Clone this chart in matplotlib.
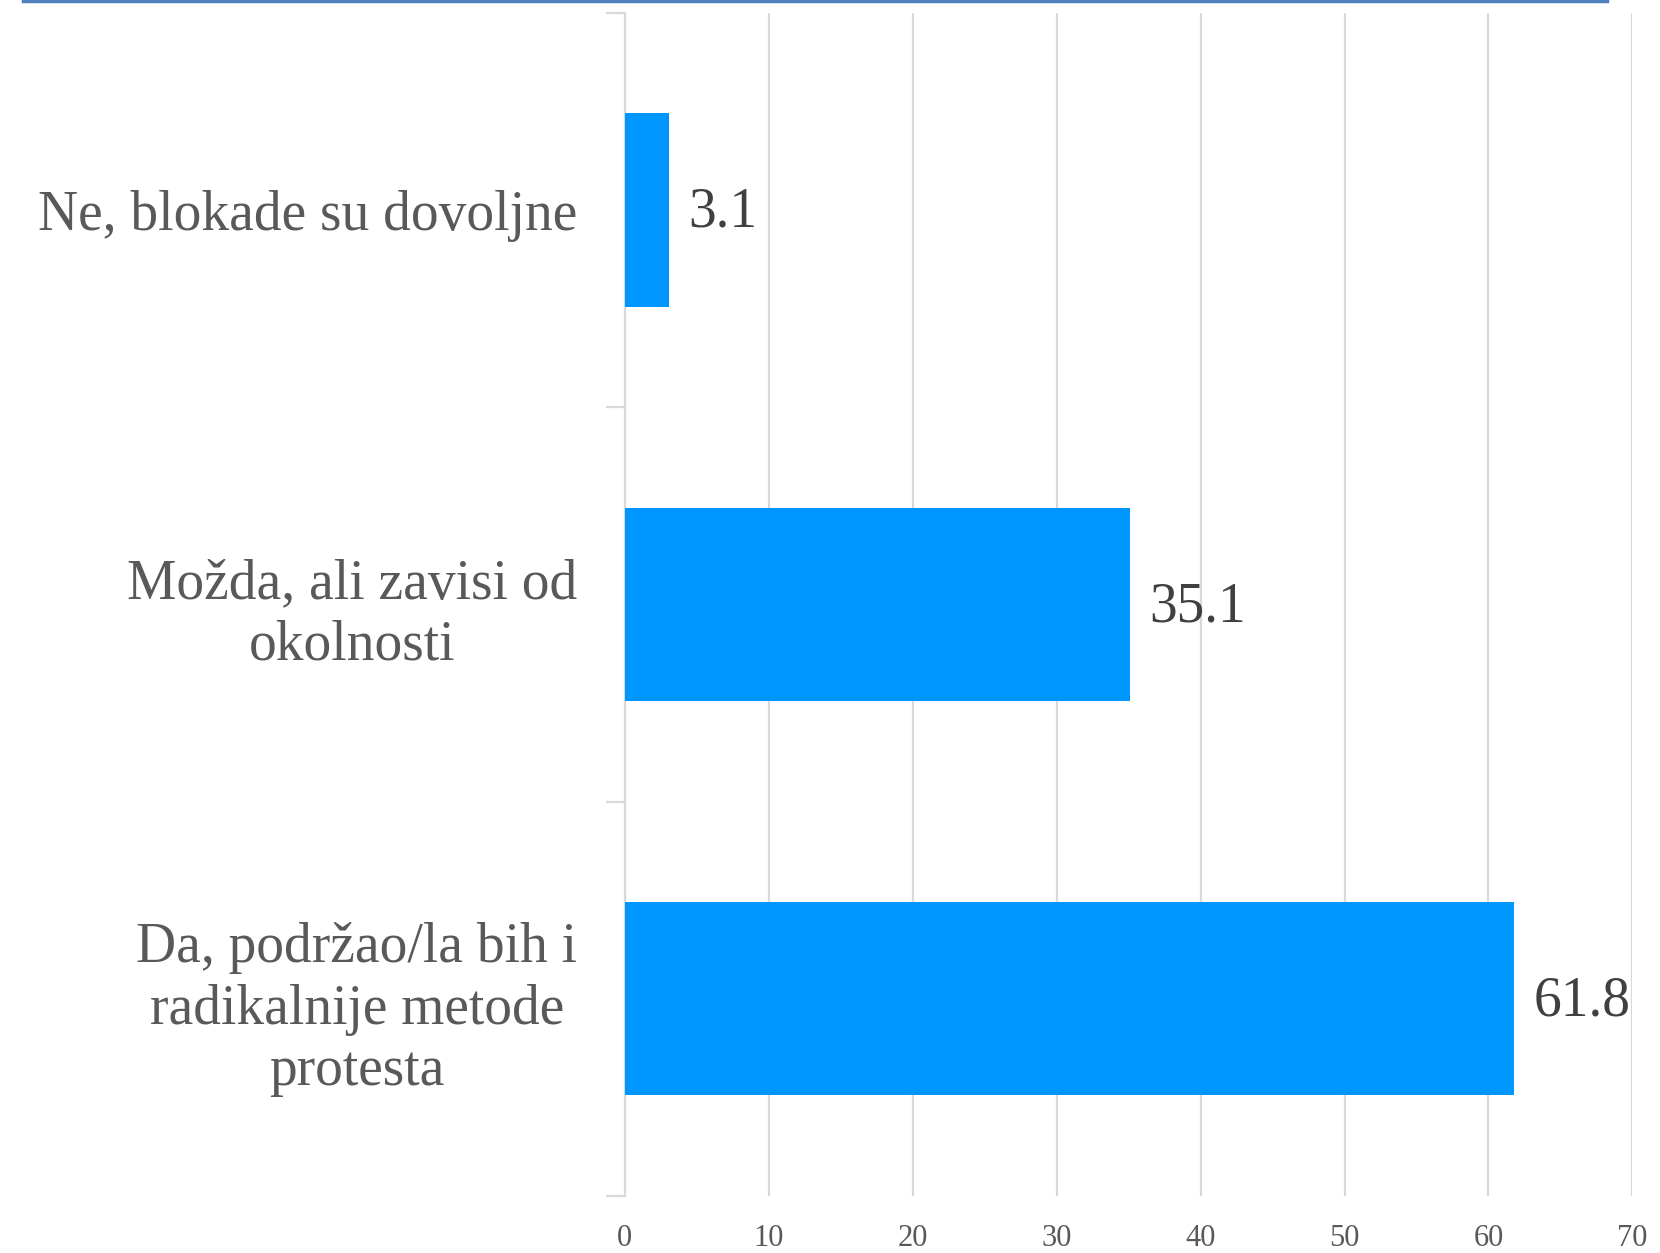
import matplotlib.pyplot as plt
from matplotlib.lines import Line2D

# odgovori i procenti
categories = ['Ne, blokade su dovoljne',
              'Možda, ali zavisi od\nokolnosti',
              'Da, podržao/la bih i\nradikalnije metode\nprotesta']
values = [3.1, 35.1, 61.8]
xticks = [0, 10, 20, 30, 40, 50, 60, 70]

plt.rcParams['font.family'] = ['Liberation Serif', 'DejaVu Serif']

fig = plt.figure(figsize=(16.6, 12.53), dpi=100)
ax = fig.add_axes([0.3763, 0.0455, 0.6071, 0.9444])

pos = list(range(len(categories)))
ax.barh(pos, values, height=0.49, color='#0096ff', zorder=3)

ax.set_xlim(0, 70)
ax.set_ylim(-0.5, len(categories) - 0.5)
ax.invert_yaxis()

# mreza
ax.set_xticks(xticks)
ax.set_xticklabels([str(t) for t in xticks])
ax.grid(axis='x', color='#d9d9d9', linewidth=1.6, zorder=0)
ax.tick_params(axis='x', length=0, pad=20, labelsize=22, labelcolor='#595959')

# kategorije - tickovi na granicama
ax.set_yticks(pos)
ax.set_yticklabels(categories, multialignment='center', linespacing=1.24)
ax.set_yticks([-0.5, 0.5, 1.5, 2.5], minor=True)
ax.tick_params(axis='y', which='major', length=0, pad=34, labelsize=40, labelcolor='#595959')
ax.tick_params(axis='y', which='minor', length=14, width=1.6, color='#d9d9d9')

for s in ['top', 'right', 'bottom']:
    ax.spines[s].set_visible(False)
ax.spines['left'].set_color('#d9d9d9')
ax.spines['left'].set_linewidth(1.6)

for p, v in zip(pos, values):
    ax.annotate(f'{v}', xy=(v, p), xytext=(14, -2), textcoords='offset points',
                ha='left', va='center', fontsize=40, color='#404040')

# plavi okvir gore
fig.add_artist(Line2D([23 / 1660, 1607 / 1660], [0.9995, 0.9995],
                      transform=fig.transFigure, color='#4f81bd', linewidth=2.5))

fig.savefig('out.png', dpi=100)
